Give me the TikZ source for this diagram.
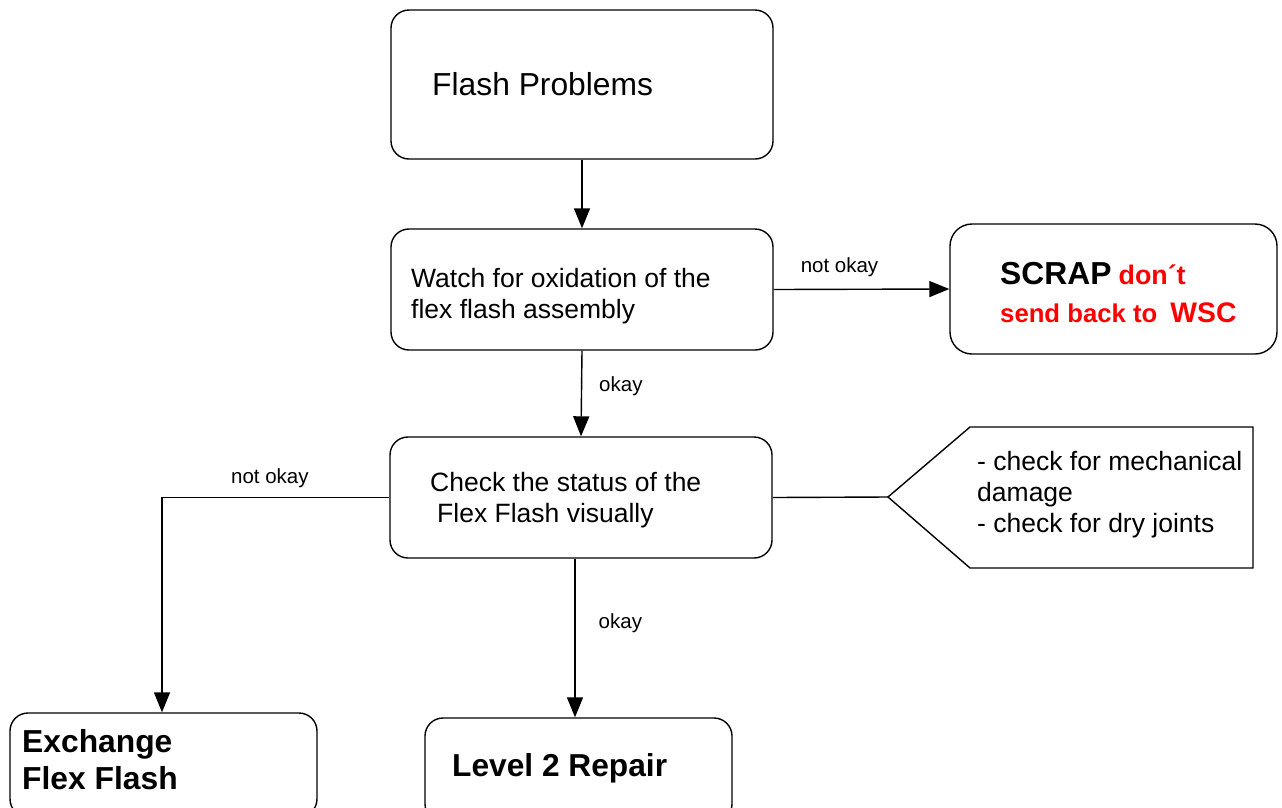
\documentclass[tikz,border=0pt]{standalone}
\usepackage{fontspec}
\setmainfont{Liberation Sans}
\usetikzlibrary{arrows.meta,calc}
\definecolor{scrapred}{RGB}{255,0,0}
\tikzset{
  box/.style={draw, line width=1.4pt, rounded corners=18pt, inner sep=0pt},
  txt/.style={anchor=west, align=left, inner sep=0pt},
  arr/.style={line width=1.4pt, -{Triangle[length=20pt,width=16pt]}},
  ln/.style={line width=1.4pt},
  lbl/.style={font=\fontsize{20.5}{24}\selectfont, inner sep=0pt},
  mid/.style={font=\fontsize{26.5}{31}\selectfont},
  big/.style={font=\fontsize{31.8}{37}\selectfont},
}
\begin{document}
\begin{tikzpicture}[x=1pt,y=-1pt]
\clip (0,0) rectangle (1282,807);
\fill[white] (0,0) rectangle (1282,807);
% boxes
\node[box, minimum width=382pt, minimum height=149pt] (b1) at (582,84.5) {};
\node[txt, big] (b1t) at (432,84.5) {Flash Problems};
\node[box, minimum width=382pt, minimum height=121pt] (b2) at (582,289.5) {};
\node[txt, mid] (b2t) at (411,296.5) {Watch for oxidation of the\\flex flash assembly};
\node[box, minimum width=327pt, minimum height=130pt, rounded corners=22pt] (scrap) at (1113.5,289) {};
\node[txt, font=\fontsize{25.7}{38}\selectfont\bfseries] (scrapt) at (1000,292.5) {{\fontsize{31.8}{38}\selectfont SCRAP} \textcolor{scrapred}{\fontsize{26.8}{38}\selectfont don´t}\\\textcolor{scrapred}{send back to\hspace{6pt} {\fontsize{28.3}{38}\selectfont WSC}}};
\node[box, minimum width=382pt, minimum height=121pt] (b3) at (581,497.5) {};
\node[txt, mid] (b3t) at (430,500.5) {Check the status of the\\\hspace*{7pt}Flex Flash visually};
\node[box, minimum width=307pt, minimum height=104pt] (exch) at (163.5,765) {};
\node[txt, font=\fontsize{31.8}{37}\selectfont\bfseries] (excht) at (22,760) {Exchange\\Flex Flash};
\node[box, minimum width=307pt, minimum height=104pt] (lvl) at (578.5,770) {};
\node[txt, font=\fontsize{31.7}{37}\selectfont\bfseries] (lvlt) at (452,768) {Level 2 Repair};
% callout
\coordinate (tip) at (888,497);
\draw[ln] (tip) -- (970,427) -- (1253,427) -- (1253,568) -- (970,568) -- cycle;
\node[mid, anchor=north west, align=left, inner sep=0pt] (note) at (977,451) {- check for mechanical\\damage\\- check for dry joints};
% connectors
\draw[arr] (b1.south) -- (b2.north);
\draw[arr] (b2.east) -- node[lbl, above=12pt, xshift=-22pt] {not okay} (scrap.west);
\draw[arr] (b2.south) -- node[lbl, right=17pt, yshift=7pt] {okay} (b3.north);
\draw[ln] (b3.east) -- (tip);
\draw[arr] (b3.west) -| node[lbl, pos=0.3, above=9pt, xshift=17pt] {not okay} (exch.north -| 162,0);
\draw[arr] ([xshift=-6pt]b3.south) -- node[lbl, right=23pt, yshift=15pt] {okay} ([xshift=-6pt]b3.south |- lvl.north);
\end{tikzpicture}
\end{document}
